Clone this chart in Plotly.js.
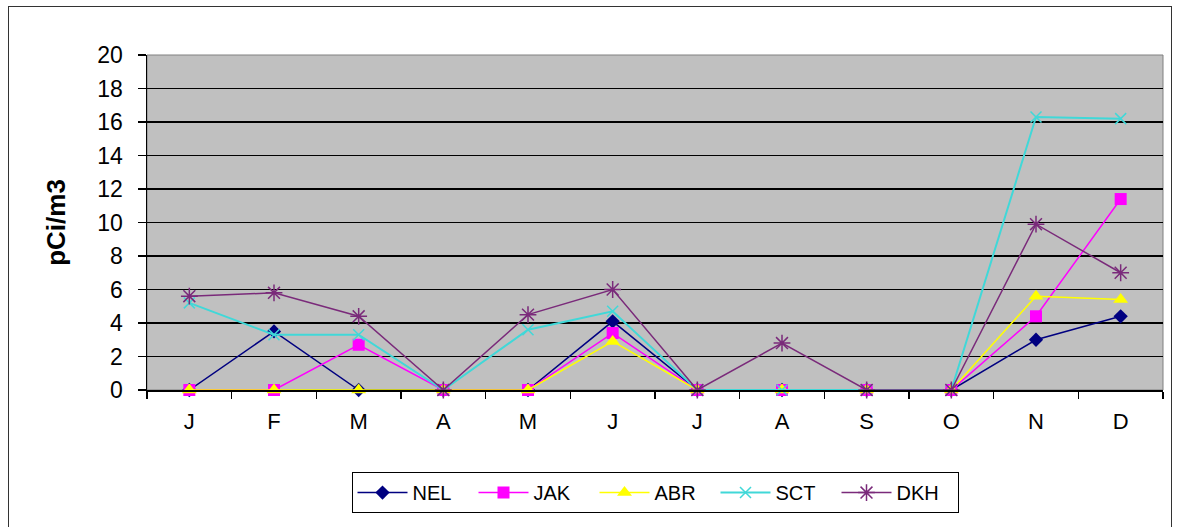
<!DOCTYPE html>
<html>
<head>
<meta charset="utf-8">
<script src="https://cdn.plot.ly/plotly-3.0.1.min.js"></script>
<style>
  html, body { margin: 0; padding: 0; background: #ffffff; overflow: hidden; }
  #frame { position: absolute; left: 8px; top: 6px; width: 1164px; height: 540px; border: 1px solid #333; box-sizing: border-box; }
  #chart { position: absolute; left: 0; top: 0; width: 1178px; height: 527px; }
</style>
</head>
<body>
<div id="frame"></div>
<div id="chart"></div>
<script>
const months = ['J','F','M','A','M','J','J','A','S','O','N','D'];
const monthKeys = ['Jan','Feb','Mar','Apr','May','Jun','Jul','Aug','Sep','Oct','Nov','Dec'];

const NEL = [0, 3.5, 0, 0, 0, 4.1, 0, 0, 0, 0, 3.0, 4.4];
const JAK = [0, 0, 2.7, 0, 0, 3.4, 0, 0, 0, 0, 4.4, 11.4];
const ABR = [0, 0, 0, 0, 0, 2.9, 0, 0, 0, 0, 5.6, 5.4];
const SCT = [5.2, 3.3, 3.3, 0, 3.6, 4.7, 0, 0, 0, 0, 16.3, 16.2];
const DKH = [5.6, 5.8, 4.4, 0, 4.5, 6.0, 0, 2.8, 0, 0, 9.9, 7.0];

const yTicks = [0, 2, 4, 6, 8, 10, 12, 14, 16, 18, 20];

function series(name, y, color, symbol, msize, lw, mline) {
  return {
    type: 'scatter', mode: 'lines+markers', name: name,
    x: monthKeys, y: y, cliponaxis: false,
    line: { color: color, width: lw },
    marker: { color: color, symbol: symbol, size: msize, line: { color: color, width: mline } }
  };
}

const data = [
  series('NEL', NEL, '#000080', 'diamond', 11, 1.5, 0),
  series('JAK', JAK, '#FF00FF', 'square', 12, 1.5, 0),
  series('ABR', ABR, '#FFFF00', 'triangle-up', 13, 1.5, 0),
  series('SCT', SCT, '#40D8D8', 'x-thin-open', 11, 2, 1.5),
  series('DKH', DKH, '#7A2A7A', 'asterisk-open', 14, 1.5, 1.5)
];

const layout = {
  width: 1178, height: 527,
  margin: { l: 147, r: 15, t: 55, b: 137 },
  paper_bgcolor: 'rgba(0,0,0,0)',
  plot_bgcolor: '#C0C0C0',
  font: { family: 'Liberation Sans, Arial, sans-serif', color: '#000' },
  showlegend: true,
  legend: {
    orientation: 'h', x: 0.5, xanchor: 'center', y: -0.245, yanchor: 'top',
    bgcolor: '#ffffff', bordercolor: '#000', borderwidth: 1,
    font: { size: 20, family: 'Liberation Sans, Arial, sans-serif', color: '#000' },
    itemwidth: 50, entrywidth: 56, entrywidthmode: 'pixels', tracegroupgap: 0
  },
  xaxis: {
    type: 'category',
    tickmode: 'array', tickvals: monthKeys, ticktext: months,
    range: [-0.5, 11.5],
    tickson: 'boundaries', ticks: 'outside', ticklen: 7, tickcolor: '#000', tickwidth: 1.5,
    showline: true, linecolor: '#000', linewidth: 1.5,
    showgrid: false, zeroline: false,
    ticklabelstandoff: 11,
    tickfont: { size: 22, color: '#000' }
  },
  yaxis: {
    range: [0, 20],
    tickmode: 'array', tickvals: yTicks,
    ticks: 'outside', ticklen: 8, tickcolor: '#000', tickwidth: 1.5,
    showline: true, linecolor: '#000', linewidth: 1.5,
    showgrid: true, gridcolor: '#000', gridwidth: 1.5,
    zeroline: false,
    ticklabelstandoff: 10,
    tickfont: { size: 23, color: '#000' },
    title: { text: '<b>pCi/m3</b>', font: { size: 26, color: '#000' }, standoff: 24 }
  },
  shapes: [
    { type: 'rect', xref: 'paper', yref: 'paper', x0: 0, x1: 1, y0: 0, y1: 1,
      line: { color: '#808080', width: 1 }, layer: 'below' }
  ]
};

Plotly.newPlot('chart', data, layout, { displayModeBar: false, staticPlot: true });
</script>
</body>
</html>
